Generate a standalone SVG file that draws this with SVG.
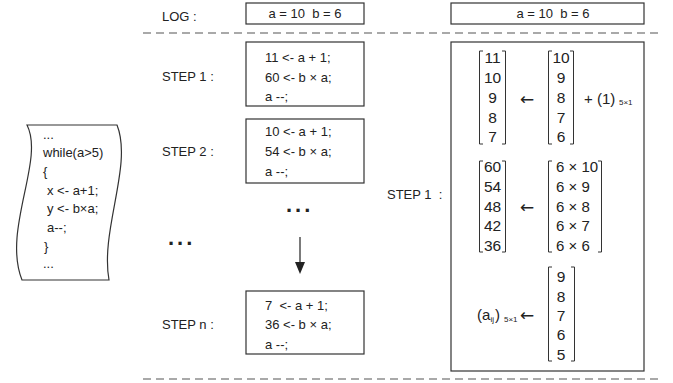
<svg xmlns="http://www.w3.org/2000/svg" width="673" height="383" viewBox="0 0 673 383">
<style>
text{font-family:"Liberation Sans",Arial,sans-serif;fill:#222;font-size:13px;white-space:pre}
.box{fill:#fff;stroke:#333;stroke-width:1.2}
.dash{stroke:#555;stroke-width:1.2;stroke-dasharray:8 5;fill:none}
.br{fill:none;stroke:#333;stroke-width:1}
.m{font-size:15.5px;text-anchor:middle}
.ml{font-size:15px}
.sub{font-size:8px}
.dots{font-size:22px;font-weight:bold;letter-spacing:3px}
.arr{font-family:"DejaVu Sans",sans-serif;font-size:17px}
</style>
<g id="connectors">
<line class="dash" x1="143" y1="33" x2="660" y2="33"/>
<line class="dash" x1="143" y1="379" x2="660" y2="379"/>
<line x1="300" y1="237" x2="300" y2="263" stroke="#222" stroke-width="1.2"/>
<polygon points="295,262 305,262 300,274" fill="#222"/>
</g>
<g id="code">
<path class="box" d="M27,125 H117 C133,165 100,230 109,280 H22 C2,230 45,160 27,125 Z"/>
<text x="43" y="139">...</text>
<text x="43" y="157">while(a&gt;5)</text>
<text x="43" y="176">{</text>
<text x="47" y="195">x &lt;- a+1;</text>
<text x="47" y="213">y &lt;- b×a;</text>
<text x="47" y="232">a--;</text>
<text x="44" y="251">}</text>
<text x="43" y="268">...</text>
</g>
<g id="log">
<text x="162" y="20.5">LOG :</text>
<rect class="box" x="246" y="3" width="118" height="21"/>
<text x="305" y="18" text-anchor="middle">a = 10  b = 6</text>
</g>
<g id="step1">
<text x="162" y="81">STEP 1 :</text>
<rect class="box" x="246" y="42" width="118" height="64"/>
<text x="265" y="61.5">11 &lt;- a + 1;</text>
<text x="265" y="81.5">60 &lt;- b × a;</text>
<text x="265" y="101">a --;</text>
</g>
<g id="step2">
<text x="162" y="155.5">STEP 2 :</text>
<rect class="box" x="246" y="119" width="118" height="64"/>
<text x="265" y="135.5">10 &lt;- a + 1;</text>
<text x="265" y="155.5">54 &lt;- b × a;</text>
<text x="265" y="176">a --;</text>
</g>
<g id="ellipsis">
<text class="dots" x="286" y="212">...</text>
<text class="dots" x="168" y="245">...</text>
</g>
<g id="stepn">
<text x="162" y="328.5">STEP n :</text>
<rect class="box" x="246" y="291" width="118" height="63"/>
<text x="265" y="309.5">7  &lt;- a + 1;</text>
<text x="265" y="328.5">36 &lt;- b × a;</text>
<text x="265" y="349">a --;</text>
</g>
<g id="log2">
<rect class="box" x="451" y="3" width="193" height="21"/>
<text x="553" y="18" text-anchor="middle">a = 10  b = 6</text>
</g>
<g id="step1-matrix">
<text x="387" y="198.5">STEP 1  :</text>
<rect class="box" x="451" y="42" width="193" height="329"/>
<path class="br" d="M483,51 H479.5 V144 H483 M502,51 H505.5 V144 H502"/>
<text class="m" x="492.5" y="63">11</text>
<text class="m" x="492.5" y="82.5">10</text>
<text class="m" x="492.5" y="102.5">9</text>
<text class="m" x="492.5" y="122.5">8</text>
<text class="m" x="492.5" y="142">7</text>
<text class="arr" x="520" y="104.5">←</text>
<path class="br" d="M552,51 H548.5 V144 H552 M570,51 H573.5 V144 H570"/>
<text class="m" x="561" y="63">10</text>
<text class="m" x="561" y="82.5">9</text>
<text class="m" x="561" y="102.5">8</text>
<text class="m" x="561" y="122.5">7</text>
<text class="m" x="561" y="142">6</text>
<text class="ml" x="584" y="103.5">+ (1)</text>
<text class="sub" x="619" y="105">5×1</text>
<path class="br" d="M483,161 H479.5 V252 H483 M502,161 H505.5 V252 H502"/>
<text class="m" x="492.5" y="172">60</text>
<text class="m" x="492.5" y="191.5">54</text>
<text class="m" x="492.5" y="211.5">48</text>
<text class="m" x="492.5" y="231">42</text>
<text class="m" x="492.5" y="250.5">36</text>
<text class="arr" x="520" y="212.5">←</text>
<path class="br" d="M552,161 H548.5 V252 H552 M598,161 H601.5 V252 H598"/>
<text class="ml" x="556" y="172">6 × 10</text>
<text class="ml" x="556" y="191.5">6 × 9</text>
<text class="ml" x="556" y="211.5">6 × 8</text>
<text class="ml" x="556" y="231">6 × 7</text>
<text class="ml" x="556" y="250.5">6 × 6</text>
<path class="br" d="M552,267 H548.5 V361 H552 M571,267 H574.5 V361 H571"/>
<text class="m" x="561" y="282">9</text>
<text class="m" x="561" y="301.5">8</text>
<text class="m" x="561" y="321">7</text>
<text class="m" x="561" y="340">6</text>
<text class="m" x="561" y="359.5">5</text>
<text class="ml" x="477" y="320">(a</text>
<text class="sub" x="490.5" y="322">ij</text>
<text class="ml" x="495" y="320">)</text>
<text class="sub" x="504" y="322">5×1</text>
<text class="arr" x="520" y="320.5">←</text>
</g>
</svg>
